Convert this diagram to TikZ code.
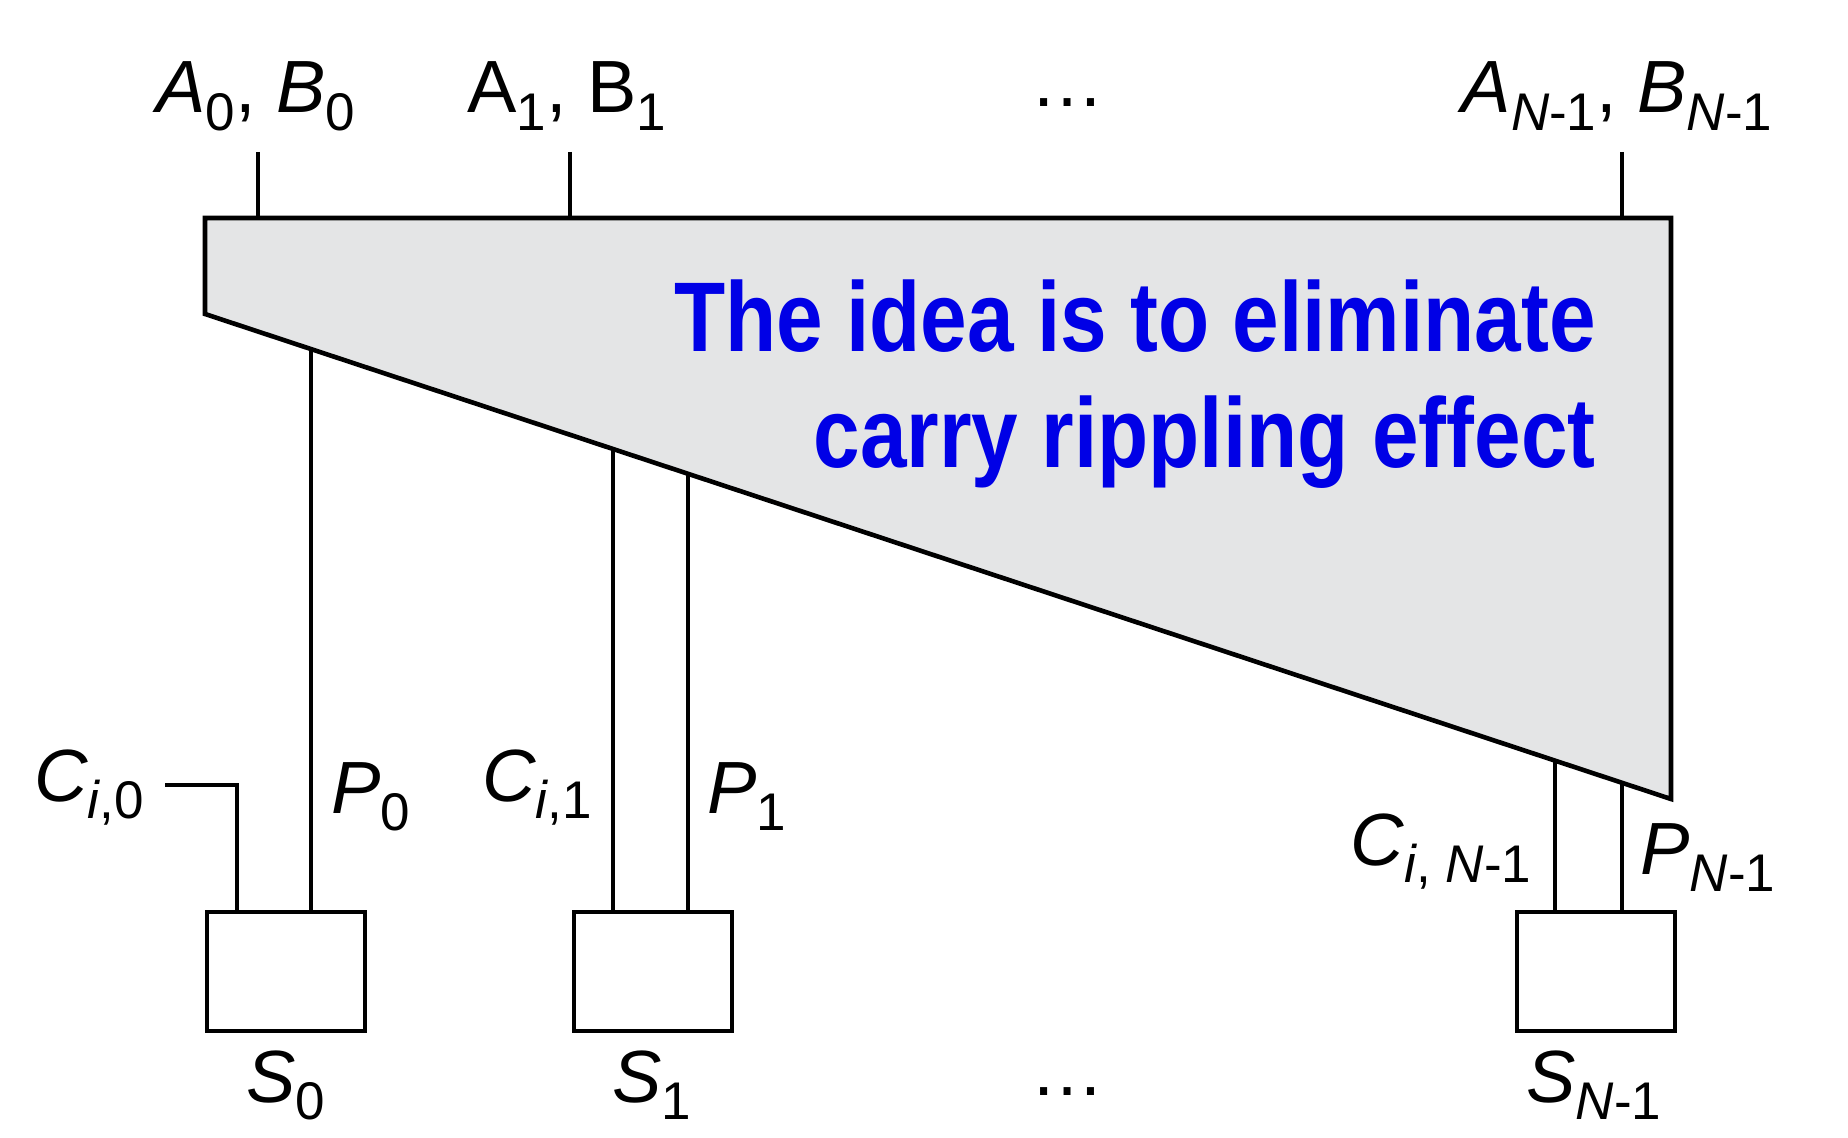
\documentclass[tikz,border=0pt]{standalone}
\usepackage{fontspec}
\setmainfont{Liberation Sans}
\newfontfamily\notefont{Liberation Sans}[FakeStretch=0.846]
\usetikzlibrary{calc}
\definecolor{adderfill}{RGB}{228,229,230}
\definecolor{noteblue}{RGB}{0,0,230}
\newcommand{\lsub}[1]{\raisebox{-0.24em}{\fontsize{26.5}{30}\selectfont #1}}
\tikzset{
  lbl/.style={inner sep=0pt, anchor=base, font=\fontsize{37}{44}\selectfont},
  wire/.style={line width=1.9pt},
  sbox/.style={draw, line width=2pt, minimum width=79pt, minimum height=59.5pt, inner sep=0pt},
  note/.style={inner sep=0pt, anchor=base east, text=noteblue,
    font=\notefont\bfseries\fontsize{49.5}{58}\selectfont}
}
\begin{document}
\begin{tikzpicture}[x=0.5pt, y=-0.5pt]
\useasboundingbox (0,0) rectangle (1848,1138);
% adder block
\coordinate (tl) at (205,218);
\coordinate (tr) at (1671,218);
\coordinate (br) at (1671,799);
\coordinate (bl) at (205,314);
\filldraw[fill=adderfill, line width=2.3pt] (tl) -- (tr) -- (br) -- (bl) -- cycle;
\node[note] (idea1) at (1596,352) {The idea is to eliminate};
\node[note] (idea2) at (1596,468) {carry rippling effect};
% inputs
\node[lbl] (ab0) at (256,113) {\textit{A}\lsub{0}, \textit{B}\lsub{0}};
\node[lbl] (ab1) at (567,113) {A\lsub{1}, B\lsub{1}};
\node[lbl] (topdots) at (1067,107) {\dots};
\node[lbl] (abn) at (1617,113) {\textit{A}\lsub{\textit{N}-1}, \textit{B}\lsub{\textit{N}-1}};
\coordinate (in0) at (258,152);
\coordinate (in1) at (570,152);
\coordinate (inn) at (1622,152);
\draw[wire] (in0) -- (in0 |- tl);
\draw[wire] (in1) -- (in1 |- tl);
\draw[wire] (inn) -- (inn |- tl);
% sum cells
\node[sbox] (s0) at (285.5,971.5) {};
\node[sbox] (s1) at (652.5,971.5) {};
\node[sbox] (sn) at (1596,971.5) {};
\node[lbl] (s0lbl) at (286,1102) {\textit{S}\lsub{0}};
\node[lbl] (s1lbl) at (652,1102) {\textit{S}\lsub{1}};
\node[lbl] (snlbl) at (1594,1102) {\textit{S}\lsub{\textit{N}-1}};
\node[lbl] (botdots) at (1067,1095) {\dots};
% outputs of the block
\coordinate (p0) at ($(bl)!0.0723!(br)$);
\coordinate (c1) at ($(bl)!0.2783!(br)$);
\coordinate (p1) at ($(bl)!0.3295!(br)$);
\coordinate (cn) at ($(bl)!0.9209!(br)$);
\coordinate (pn) at ($(bl)!0.9666!(br)$);
\draw[wire] (p0) -- (p0 |- s0.north);
\draw[wire] (c1) -- (c1 |- s1.north);
\draw[wire] (p1) -- (p1 |- s1.north);
\draw[wire] (cn) -- (cn |- sn.north);
\draw[wire] (pn) -- (pn |- sn.north);
\coordinate (cin) at (165,785);
\draw[wire] (cin) -| (237,0 |- s0.north);
\node[lbl] (c0lbl) at (89,801) {\textit{C}\lsub{\textit{i},0}};
\node[lbl] (p0lbl) at (371,813) {\textit{P}\lsub{0}};
\node[lbl] (c1lbl) at (537,801) {\textit{C}\lsub{\textit{i},1}};
\node[lbl] (p1lbl) at (747,813) {\textit{P}\lsub{1}};
\node[lbl] (cnlbl) at (1441,865) {\textit{C}\lsub{\textit{i}, \textit{N}-1}};
\node[lbl] (pnlbl) at (1708,874) {\textit{P}\lsub{\textit{N}-1}};
\end{tikzpicture}
\end{document}
